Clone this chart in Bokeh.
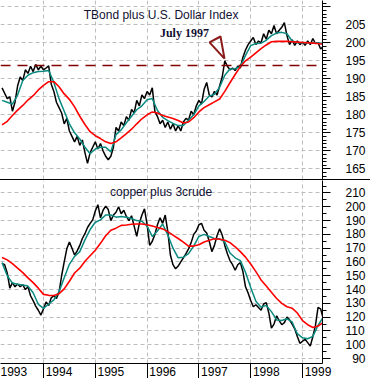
import numpy as np
from bokeh.plotting import figure
from bokeh.layouts import column
from bokeh.models import (Range1d, SingleIntervalTicker, FixedTicker, Grid, Span,
                          Label, Div, CustomJSTickFormatter)
from bokeh.embed import file_html
from bokeh.resources import INLINE

# ---------------- data (decimal years) ----------------
dense_dates = np.round(1993.2 + 0.05 * np.arange(125), 3)   # price sampling
ma_dates = np.round(1993.2 + 0.1 * np.arange(63), 3)        # moving-average sampling

years = [1994, 1995, 1996, 1997, 1998, 1999]
year_label_pos = [1993.3, 1994.3, 1995.3, 1996.3, 1997.3, 1998.3, 1999.3]

# Top panel: TBond plus U.S. Dollar Index
tb_price = [187.5, 186, 184.5, 185, 181, 183.5, 188, 190.5, 189.5, 192.5,
            191.5, 193.5, 192, 194, 192.5, 193.5, 192.5, 193, 193.6, 188.5,
            186.5, 183.5, 182, 180.5, 177.5, 179, 175.5, 174, 172.5, 174,
            171.5, 173, 169.5, 166.5, 169.5, 171, 172.5, 170.5, 172, 170,
            168.5, 167.5, 168.5, 171, 176.5, 175.5, 178, 177, 179.5, 178.5,
            181.5, 180.5, 184, 182.5, 185.5, 184.5, 186.5, 185.5, 187.5, 181,
            179.5, 177.5, 178.5, 176.5, 178, 176, 177.5, 175.5, 177, 175.5,
            178, 179, 178.5, 181, 180, 182.5, 184, 183, 187, 189,
            185.5, 185, 186.5, 185.5, 188, 190.5, 195, 193.5, 192.5, 193,
            192.3, 193.5, 193, 196, 198, 199.5, 200.5, 201.5, 199.5, 200.5,
            200, 202.5, 201, 203.5, 202.5, 204.8, 202.5, 203.5, 204.3, 205.6,
            202, 199.5, 200.8, 199.3, 200.5, 199.5, 200.2, 199.3, 200.5, 199.5,
            201.2, 199.8, 200, 198.3, 199]
tb_short_ma = [184, 183.5, 183, 185.5, 189.5, 191, 191.7, 192, 192.1, 192.3,
               189, 184.5, 181, 177.5, 175, 173.3, 171, 169.2, 170.5, 171,
               171, 169.7, 174.5, 175.8, 177.8, 179.6, 181.4, 182.5, 184.2, 184.5,
               181.2, 179.3, 178.4, 177.6, 177, 177, 178.5, 180, 182.5, 183.7,
               185.2, 185.7, 187.7, 191, 192.7, 192.8, 193.4, 196.5, 199.2, 199.8,
               199.9, 200.7, 202, 202.7, 202.9, 202.5, 200.5, 200, 200, 200,
               200, 200, 199.8]
tb_long_ma = [177.2, 178.2, 179.8, 181.3, 182.6, 184.1, 185.3, 186.9, 188.2, 189.2,
              189.2, 187.8, 185.8, 184.3, 182.2, 179.6, 177.3, 175.3, 174.2, 173.4,
              172.5, 172, 172.5, 173.6, 174.8, 176, 177.5, 178.9, 180, 180.8,
              180.5, 179.8, 179.4, 179, 178.4, 177.7, 178, 179.2, 180.8, 182,
              182.8, 183.6, 184.4, 186.5, 188.9, 191.2, 193.4, 195, 196, 197.2,
              198.4, 199.4, 200.3, 200.4, 200.4, 200.4, 200.3, 200.2, 200.1, 200,
              199.9, 199.8, 199.6]
tb_ref_level = 193.7
marker_dates = [1997.205, 1997.417, 1997.494]
marker_vals = [200.1, 201.75, 195.6]

# Bottom panel: copper plus 3crude
cc_price = [159, 158, 152, 141, 145, 142, 144, 142, 143.5, 140,
            142, 135.5, 132, 128, 125, 121.5, 126, 131, 128.5, 134,
            135.5, 133.5, 138, 150, 160, 169.5, 174.5, 170, 165, 168,
            172, 177, 180.5, 185, 188, 190.5, 197, 201.5, 192, 197.5,
            200.5, 198, 190, 194, 196, 200, 195, 197.5, 193, 190,
            193.5, 186, 178.5, 188, 194, 198.5, 187, 172, 175, 180,
            187, 192, 188, 194, 182, 165, 158, 155, 157, 160,
            163, 166, 169.5, 174, 180, 182.5, 187, 188, 183, 181,
            175, 167.5, 172, 179, 184, 179.5, 172, 166, 161, 158,
            154, 158, 159.5, 153, 142, 137.5, 132, 127.5, 129, 127,
            125, 129.5, 130.5, 123, 112, 115, 121, 117.5, 114.5, 116,
            120, 118, 115, 111.5, 106, 101, 102.5, 104, 101.5, 99,
            106, 114, 127, 126, 119]
cc_short_ma = [159.5, 150, 144.7, 143.8, 143.3, 142.5, 137.7, 129.3, 126.3, 129.5,
               132.5, 138.5, 148.5, 158.3, 164, 167.5, 176, 183.5, 188.8, 190.5,
               194, 194, 192.5, 193, 192.5, 191.5, 190, 189.5, 186, 178.5,
               182.5, 187.5, 179.5, 170, 163, 163.5, 166, 171.5, 178.5, 180,
               178.5, 177, 176.8, 174.5, 166.5, 163, 161, 152.5, 141.5, 131.5,
               127.2, 128.5, 124, 118, 117.5, 118.8, 116.5, 108, 105, 104.3,
               106, 114, 120]
cc_long_ma = [163.3, 161.5, 158.8, 155.5, 152.3, 148.5, 145, 141, 136.5, 135.8,
              135.7, 137, 140.5, 146, 152, 155.5, 160.5, 164.5, 168.5, 173.5,
              179, 183, 184.5, 186.5, 186.8, 187.3, 187.5, 187.5, 187, 186,
              185, 184, 182, 179.5, 177, 174.4, 171.5, 171.5, 172.5, 174.5,
              175.8, 176.8, 176.5, 175.8, 174, 171, 167.5, 163.5, 158.5, 153,
              147, 142.5, 138, 133.5, 130, 127.5, 126.5, 123, 117.5, 114.5,
              112.5, 113.5, 116.2]

# ---------------- styling ----------------
FONT = "Liberation Sans"
GRID_COLOR = "#bdbdbd"
TEAL = "#0a8a80"
RED = "#ff0000"
MAROON = "#8b1a1a"
TXT = "#111133"

x_range = Range1d(1993.170, 1999.386)


def style_right_axis(p, interval, minor, overrides=None):
    ax = p.yaxis[0]
    ax.ticker = SingleIntervalTicker(interval=interval, num_minor_ticks=minor)
    ax.major_tick_out = 8
    ax.major_tick_in = 0
    ax.minor_tick_out = 4
    ax.minor_tick_in = 0
    ax.major_label_standoff = 15
    ax.major_label_text_font = FONT
    ax.major_label_text_font_size = "12px"
    ax.major_label_text_color = "black"
    ax.axis_line_color = "black"
    ax.major_tick_line_color = "black"
    ax.minor_tick_line_color = "black"
    if overrides:
        ax.major_label_overrides = overrides
    p.grid.visible = False
    p.add_layout(Grid(dimension=1, ticker=SingleIntervalTicker(interval=interval),
                      grid_line_color=GRID_COLOR, grid_line_dash="4 3"))
    p.add_layout(Grid(dimension=0, ticker=FixedTicker(ticks=years),
                      grid_line_color=GRID_COLOR, grid_line_dash="4 3"))


common = dict(frame_width=322, x_range=x_range, y_axis_location="right",
              output_backend="svg", toolbar_location=None,
              min_border_left=0, min_border_right=0, min_border_top=0,
              min_border_bottom=0, outline_line_color=None,
              background_fill_color="white", border_fill_color="white")

# ---------------- top panel ----------------
top = figure(frame_height=179, y_range=Range1d(162.03, 211.75),
             x_axis_location=None, **common)
style_right_axis(top, 5, 5, overrides={210: ""})

top.add_layout(Span(location=tb_ref_level, dimension="width", line_color="#800000",
                    line_dash="10 7", line_width=1.5))
top.line(dense_dates, tb_price, line_color="black", line_width=1.5)
top.line(ma_dates, tb_short_ma, line_color=TEAL, line_width=1.5)
top.line(ma_dates, tb_long_ma, line_color=RED, line_width=1.6)
top.patch(marker_dates, marker_vals, fill_color=None, line_color=MAROON, line_width=2)

top.add_layout(Label(x=1996.27, y=207.6, text="TBond plus U.S. Dollar Index",
                     text_align="center", text_baseline="alphabetic",
                     text_font=FONT, text_font_size="12px", text_color=TXT))
top.add_layout(Label(x=1996.72, y=202.86, text="July 1997",
                     text_align="center", text_baseline="alphabetic",
                     text_font="Liberation Serif", text_font_style="bold",
                     text_font_size="12px", text_color=TXT))

# ---------------- bottom panel ----------------
bot = figure(frame_height=183, y_range=Range1d(86.38, 219.06),
             x_axis_location="below", **common)
style_right_axis(bot, 10, 2, overrides={90: "\u200790"})

xa = bot.xaxis[0]
xa.ticker = FixedTicker(ticks=year_label_pos, minor_ticks=years)
xa.formatter = CustomJSTickFormatter(code="return Math.floor(tick + 0.001).toFixed(0);")
xa.major_tick_out = 0
xa.major_tick_in = 0
xa.minor_tick_out = 15
xa.minor_tick_in = 0
xa.major_label_standoff = -12
xa.major_label_text_font = FONT
xa.major_label_text_font_size = "12px"
xa.major_label_text_color = "black"
xa.axis_line_color = "black"
xa.minor_tick_line_color = "black"

bot.line(dense_dates, cc_price, line_color="black", line_width=1.5)
bot.line(ma_dates, cc_short_ma, line_color=TEAL, line_width=1.5)
bot.line(ma_dates, cc_long_ma, line_color=RED, line_width=1.6)

bot.add_layout(Label(x=1996.27, y=210.4, text="copper plus 3crude",
                     text_align="center", text_baseline="alphabetic",
                     text_font=FONT, text_font_size="12px", text_color=TXT))

sep = Div(text="", width=370, height=1, margin=(0, 0, 0, 0),
          styles={"background-color": "black", "overflow": "hidden"})

layout = column(top, sep, bot, spacing=0)

open("out.html", "w").write(file_html(layout, INLINE))
